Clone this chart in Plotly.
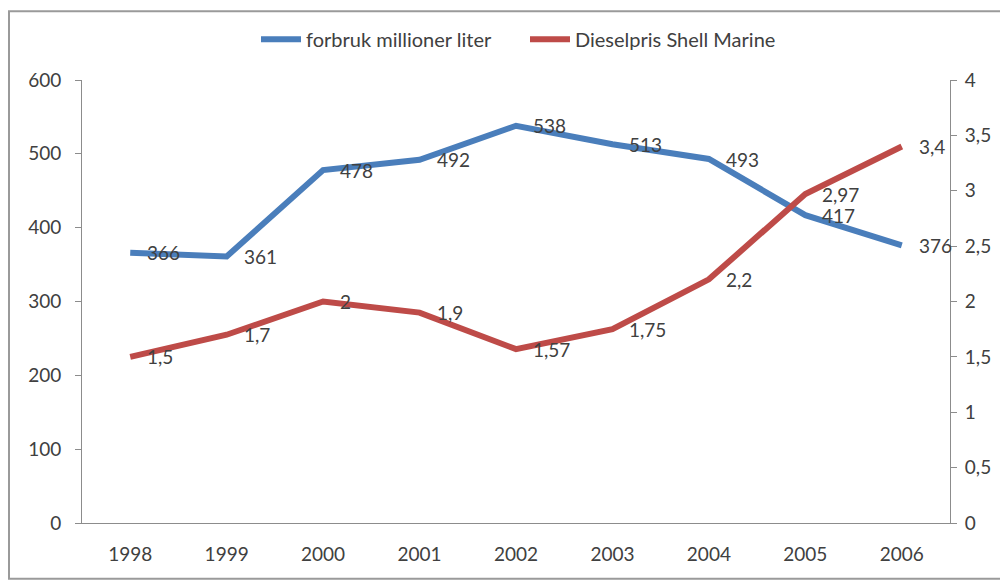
import plotly.graph_objects as go

years = ["1998", "1999", "2000", "2001", "2002", "2003", "2004", "2005", "2006"]
forbruk = [366, 361, 478, 492, 538, 513, 493, 417, 376]
dieselpris = [1.5, 1.7, 2, 1.9, 1.57, 1.75, 2.2, 2.97, 3.4]
name_forbruk = "forbruk millioner liter"
name_diesel = "Dieselpris Shell Marine"
left_ticks = [0, 100, 200, 300, 400, 500, 600]
right_ticks = [0, 0.5, 1, 1.5, 2, 2.5, 3, 3.5, 4]

BLUE = "#4A7EBB"
RED = "#BE4B48"
TXT = "#404040"
AX = "#8C8C8C"
FONT = "Lato, Noto Sans, sans-serif"


def fmt(v):
    s = ("%g" % v)
    return s.replace(".", ",")


fig = go.Figure()
fig.add_trace(go.Scatter(x=years, y=forbruk, mode="lines", name=name_forbruk,
                         line=dict(color=BLUE, width=6), yaxis="y"))
fig.add_trace(go.Scatter(x=years, y=dieselpris, mode="lines", name=name_diesel,
                         line=dict(color=RED, width=6), yaxis="y2"))

annotations = []
for i, yv in enumerate(forbruk):
    annotations.append(dict(x=i, y=yv, xref="x", yref="y", text=fmt(yv),
                            showarrow=False, xanchor="left", yanchor="middle",
                            xshift=15, font=dict(family=FONT, size=19, color=TXT)))
for i, yv in enumerate(dieselpris):
    annotations.append(dict(x=i, y=yv, xref="x", yref="y2", text=fmt(yv),
                            showarrow=False, xanchor="left", yanchor="middle",
                            xshift=15, font=dict(family=FONT, size=19, color=TXT)))

# page body has an 8px margin, so the figure is 8px smaller and shifted
OFF = 8
W, H = 1008 - OFF, 582 - OFF
ml, mr, mt, mb = 82 - OFF, 58, 78 - OFF, 59
pw, ph = W - ml - mr, H - mt - mb
# outer frame of the picture (page coords)
fx0 = (9 - 82) / pw
fx1 = (1002 - 82) / pw
fy1 = (523 - 9) / ph
fy0 = (523 - 579) / ph

fig.update_layout(
    width=W, height=H,
    margin=dict(l=ml, r=mr, t=mt, b=mb),
    paper_bgcolor="white", plot_bgcolor="white",
    font=dict(family=FONT, size=19, color=TXT),
    showlegend=True,
    legend=dict(orientation="h", x=0.5 + 9 / pw, xanchor="center", y=(523 - 37) / ph,
                yanchor="middle", font=dict(family=FONT, size=20, color=TXT), itemwidth=40,
                entrywidth=214, tracegroupgap=0),
    xaxis=dict(type="category", range=[-0.5, 8.5], showgrid=False, zeroline=False,
               showline=True, linecolor=AX, linewidth=1, ticks="",
               tickfont=dict(family=FONT, size=19, color=TXT), ticklabelstandoff=14),
    yaxis=dict(range=[0, 600], tickvals=left_ticks, showgrid=False, zeroline=False,
               showline=True, linecolor=AX, linewidth=1, ticks="outside", ticklen=6,
               tickcolor=AX, tickfont=dict(family=FONT, size=19, color=TXT),
               ticklabelstandoff=10),
    yaxis2=dict(range=[0, 4], tickvals=right_ticks, ticktext=[fmt(v) for v in right_ticks],
                overlaying="y", side="right", showgrid=False, zeroline=False,
                showline=True, linecolor=AX, linewidth=1, ticks="outside", ticklen=6,
                tickcolor=AX, tickfont=dict(family=FONT, size=19, color=TXT),
                ticklabelstandoff=4),
    annotations=annotations,
    shapes=[dict(type="rect", xref="paper", yref="paper", x0=fx0, x1=fx1, y0=fy0, y1=fy1,
                 line=dict(color="#9A9A9A", width=2), layer="below")],
)

fig.write_html("out.html")
